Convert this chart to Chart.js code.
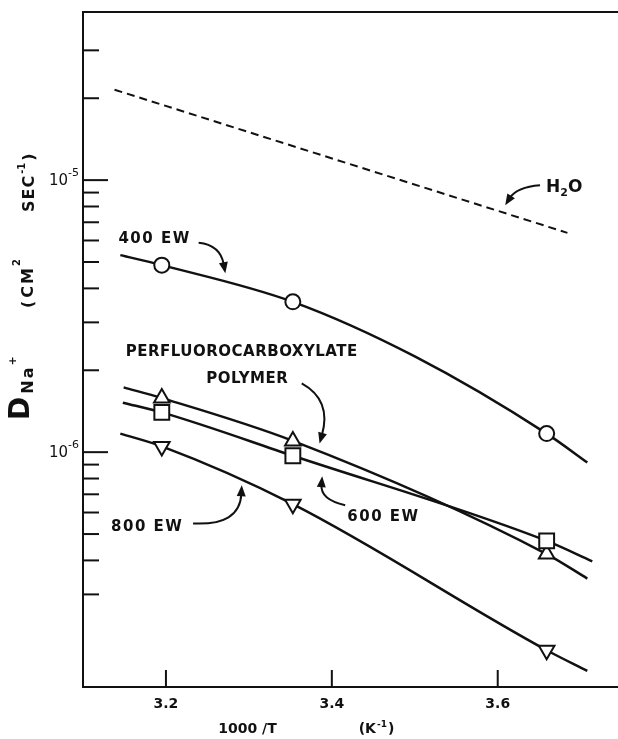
<!DOCTYPE html>
<html>
<head>
<meta charset="utf-8">
<script src="https://cdn.jsdelivr.net/npm/chart.js@4.4.1/dist/chart.umd.min.js"></script>
<style>
  html, body { margin: 0; padding: 0; background: #fff; }
  #wrap { width: 618px; height: 739px; }
</style>
</head>
<body>
<div id="wrap"><canvas id="c" width="618" height="739"></canvas></div>
<script>
// 1000/T (K^-1) of the three measurement temperatures
const invTemp = [3.195, 3.353, 3.659];

// Measured Na+ self-diffusion coefficients (cm^2 sec^-1)
const d400EW = [4.87e-6, 3.57e-6, 1.17e-6];
const dPolymer = [1.58e-6, 1.10e-6, 4.22e-7];
const d600EW = [1.40e-6, 9.7e-7, 4.72e-7];
const d800EW = [1.05e-6, 6.44e-7, 1.87e-7];

// Smooth curves drawn through each set of measurements
const curve400X = [3.145, 3.195, 3.353, 3.50, 3.659, 3.708];
const curve400Y = [5.3e-6, 4.87e-6, 3.57e-6, 2.25e-6, 1.17e-6, 9.16e-7];
const curvePolyX = [3.149, 3.195, 3.353, 3.659, 3.708];
const curvePolyY = [1.73e-6, 1.58e-6, 1.10e-6, 4.22e-7, 3.43e-7];
const curve600X = [3.148, 3.195, 3.353, 3.659, 3.714];
const curve600Y = [1.52e-6, 1.40e-6, 9.7e-7, 4.72e-7, 3.97e-7];
const curve800X = [3.145, 3.195, 3.353, 3.659, 3.708];
const curve800Y = [1.17e-6, 1.05e-6, 6.44e-7, 1.87e-7, 1.57e-7];

// Self-diffusion of water
const waterX = [3.138, 3.684];
const waterY = [2.15e-5, 6.4e-6];

// Axis ticks
const xTicks = [3.2, 3.4, 3.6];
const yDecades = [1e-6, 1e-5];
const yMinor = [3e-7, 4e-7, 5e-7, 6e-7, 7e-7, 8e-7, 9e-7,
                2e-6, 3e-6, 4e-6, 5e-6, 6e-6, 7e-6, 8e-6, 9e-6,
                2e-5, 3e-5];

const FONT = '"DejaVu Sans", sans-serif';
const INK = '#111';

// Text callouts, anchored in data coordinates (1000/T, D)
const callouts = [
  { segs: [{ t: '400 EW', ls: 1.5 }], at: [3.1427, 6.17e-6], align: 'left' },
  { segs: [{ t: 'H', size: 17 }, { t: '2', size: 11, dy: 4 }, { t: 'O', size: 17 }], at: [3.6583, 9.5e-6], align: 'left' },
  { segs: [{ t: 'PERFLUOROCARBOXYLATE', ls: 0.5 }], at: [3.2914, 2.36e-6], align: 'center' },
  { segs: [{ t: 'POLYMER', ls: 0.5 }], at: [3.298, 1.887e-6], align: 'center' },
  { segs: [{ t: '600 EW', ls: 1.5 }], at: [3.4186, 5.87e-7], align: 'left' },
  { segs: [{ t: '800 EW', ls: 1.5 }], at: [3.221, 5.39e-7], align: 'right' }
];

// Curved pointer arrows: tail, control point, tip
const arrows = [
  [[3.651, 9.58e-6], [3.623, 9.43e-6], [3.609, 8.09e-6]],
  [[3.2394, 5.88e-6], [3.2655, 5.77e-6], [3.2716, 4.55e-6]],
  [[3.3637, 1.789e-6], [3.400, 1.553e-6], [3.3852, 1.076e-6]],
  [[3.4161, 6.38e-7], [3.386, 6.69e-7], [3.3884, 8.16e-7]],
  [[3.2327, 5.47e-7], [3.289, 5.36e-7], [3.2914, 7.56e-7]]
];

const pts = (xs, ys) => xs.map((x, i) => ({ x: x, y: ys[i] }));

// Draw a run of text pieces (sizes / baseline shifts) along one baseline
function drawRich(ctx, segs, x, y, align, base) {
  base = base || {};
  let total = 0;
  const widths = segs.map(s => {
    ctx.font = (s.weight || base.weight || 'bold') + ' ' + (s.size || base.size || 15) + 'px ' + FONT;
    ctx.letterSpacing = (s.ls || 0) + 'px';
    const w = ctx.measureText(s.t).width;
    total += w + (s.gap || 0);
    return w;
  });
  let cx = align === 'center' ? x - total / 2 : align === 'right' ? x - total : x;
  segs.forEach((s, i) => {
    ctx.font = (s.weight || base.weight || 'bold') + ' ' + (s.size || base.size || 15) + 'px ' + FONT;
    ctx.letterSpacing = (s.ls || 0) + 'px';
    ctx.fillText(s.t, cx, y + (s.dy || 0));
    cx += widths[i] + (s.gap || 0);
  });
  ctx.letterSpacing = '0px';
}

const frame = {
  id: 'frame',
  afterDatasetsDraw(chart) {
    const ctx = chart.ctx, ca = chart.chartArea;
    const xs = chart.scales.x, ys = chart.scales.y;
    ctx.save();
    ctx.strokeStyle = INK;
    ctx.lineWidth = 2;
    ctx.lineCap = 'butt';
    // top rule
    ctx.beginPath();
    ctx.moveTo(ca.left - 1, ca.top);
    ctx.lineTo(ca.right, ca.top);
    ctx.stroke();
    // inward tick marks on the y axis
    yMinor.concat(yDecades).forEach(v => {
      const py = ys.getPixelForValue(v);
      const len = yDecades.includes(v) ? 25 : 16;
      ctx.beginPath();
      ctx.moveTo(ca.left, py);
      ctx.lineTo(ca.left + len, py);
      ctx.stroke();
    });
    // inward tick marks on the x axis
    xTicks.forEach(v => {
      const px = xs.getPixelForValue(v);
      ctx.beginPath();
      ctx.moveTo(px, ca.bottom);
      ctx.lineTo(px, ca.bottom - 17);
      ctx.stroke();
    });

    ctx.fillStyle = INK;
    ctx.textBaseline = 'alphabetic';

    // decade labels 10^-n
    yDecades.forEach(v => {
      const py = ys.getPixelForValue(v);
      const exp = Math.round(Math.log10(v));
      drawRich(ctx, [
        { t: '10', size: 15, weight: 'normal' },
        { t: '-' + String(-exp), size: 11, weight: 'normal', dy: -9.5, gap: 0 }
      ], ca.left - 4, py + 5, 'right');
    });

    // x axis title
    const ty = ca.bottom + 46;
    drawRich(ctx, [{ t: '1000 /T', size: 14 }], ca.left + 164.5, ty, 'center');
    drawRich(ctx, [
      { t: '(K', size: 14, gap: 1 },
      { t: '-1', size: 9, dy: -6, gap: 1 },
      { t: ')', size: 14 }
    ], ca.left + 293.5, ty, 'center');

    // y axis title, read bottom to top
    const rot = (bx, by, segs) => {
      ctx.save();
      ctx.translate(bx, by);
      ctx.rotate(-Math.PI / 2);
      drawRich(ctx, segs, 0, 0, 'left');
      ctx.restore();
    };
    rot(29, 420, [
      { t: 'D', size: 28, gap: 3 },
      { t: 'Na', size: 16, dy: 4, ls: 2, gap: 0 },
      { t: '+', size: 11, dy: -13 }
    ]);
    rot(33, 308, [
      { t: '(', size: 16, gap: 3 },
      { t: 'CM', size: 16, ls: 2, gap: 0 },
      { t: '2', size: 10, dy: -13 }
    ]);
    rot(34, 212, [
      { t: 'SEC', size: 16, ls: 1, gap: 1 },
      { t: '-1', size: 10, dy: -9, gap: 2 },
      { t: ')', size: 16 }
    ]);

    // callout texts
    callouts.forEach(c => {
      const px = xs.getPixelForValue(c.at[0]);
      const py = ys.getPixelForValue(c.at[1]);
      drawRich(ctx, c.segs, px, py + 5.5, c.align, { size: 15 });
    });

    // curved pointer arrows
    arrows.forEach(a => {
      const p = a.map(q => [xs.getPixelForValue(q[0]), ys.getPixelForValue(q[1])]);
      const [t0, c0, tip] = p;
      const ang = Math.atan2(tip[1] - c0[1], tip[0] - c0[0]);
      const hl = 11, hw = 4.5;
      const back = [tip[0] - Math.cos(ang) * hl * 0.8, tip[1] - Math.sin(ang) * hl * 0.8];
      ctx.lineWidth = 2;
      ctx.beginPath();
      ctx.moveTo(t0[0], t0[1]);
      ctx.quadraticCurveTo(c0[0], c0[1], back[0], back[1]);
      ctx.stroke();
      const bx = tip[0] - Math.cos(ang) * hl, by = tip[1] - Math.sin(ang) * hl;
      ctx.beginPath();
      ctx.moveTo(tip[0], tip[1]);
      ctx.lineTo(bx + Math.sin(ang) * hw, by - Math.cos(ang) * hw);
      ctx.lineTo(bx - Math.sin(ang) * hw, by + Math.cos(ang) * hw);
      ctx.closePath();
      ctx.fill();
    });
    ctx.restore();
  }
};

const markerStyle = {
  showLine: false,
  pointBackgroundColor: '#fff',
  pointBorderColor: INK,
  pointBorderWidth: 2,
  pointHoverRadius: 0
};
const curveStyle = {
  showLine: true,
  pointRadius: 0,
  pointHoverRadius: 0,
  borderColor: INK,
  borderWidth: 2.5,
  cubicInterpolationMode: 'monotone',
  fill: false
};

new Chart(document.getElementById('c'), {
  type: 'scatter',
  data: {
    datasets: [
      Object.assign({ label: '600 EW', data: pts(invTemp, d600EW), pointStyle: 'rect', pointRadius: 10.5 }, markerStyle),
      Object.assign({ label: 'Perfluorocarboxylate polymer', data: pts(invTemp, dPolymer), pointStyle: 'triangle', pointRadius: 9 }, markerStyle),
      Object.assign({ label: '400 EW', data: pts(invTemp, d400EW), pointStyle: 'circle', pointRadius: 7.5 }, markerStyle),
      Object.assign({ label: '800 EW', data: pts(invTemp, d800EW), pointStyle: 'triangle', rotation: 180, pointRadius: 9 }, markerStyle),
      Object.assign({ label: '400 EW curve', data: pts(curve400X, curve400Y) }, curveStyle),
      Object.assign({ label: 'polymer curve', data: pts(curvePolyX, curvePolyY) }, curveStyle),
      Object.assign({ label: '600 EW curve', data: pts(curve600X, curve600Y) }, curveStyle),
      Object.assign({ label: '800 EW curve', data: pts(curve800X, curve800Y) }, curveStyle),
      Object.assign({ label: 'H2O', data: pts(waterX, waterY) }, curveStyle, { borderWidth: 2, borderDash: [8, 5], cubicInterpolationMode: 'default', tension: 0 })
    ]
  },
  options: {
    responsive: false,
    devicePixelRatio: 1,
    animation: false,
    layout: { autoPadding: false, padding: { top: 12, right: 0, left: 0, bottom: 0 } },
    plugins: { legend: { display: false }, tooltip: { enabled: false } },
    events: [],
    scales: {
      x: {
        type: 'linear',
        min: 3.1,
        max: 3.745,
        afterBuildTicks: s => { s.ticks = xTicks.map(v => ({ value: v })); },
        afterFit: s => { s.height = 52; },
        grid: { display: true, drawOnChartArea: false, drawTicks: false },
        border: { display: true, color: INK, width: 2 },
        ticks: {
          color: INK,
          padding: 9,
          maxRotation: 0,
          autoSkip: false,
          font: { family: FONT, size: 14, weight: 'bold' },
          callback: v => Number(v).toFixed(1)
        }
      },
      y: {
        type: 'logarithmic',
        min: 1.37e-7,
        max: 4.15e-5,
        afterFit: s => { s.width = 83; },
        grid: { display: true, drawOnChartArea: false, drawTicks: false },
        border: { display: true, color: INK, width: 2 },
        ticks: { display: false }
      }
    }
  },
  plugins: [frame]
});
</script>
</body>
</html>
